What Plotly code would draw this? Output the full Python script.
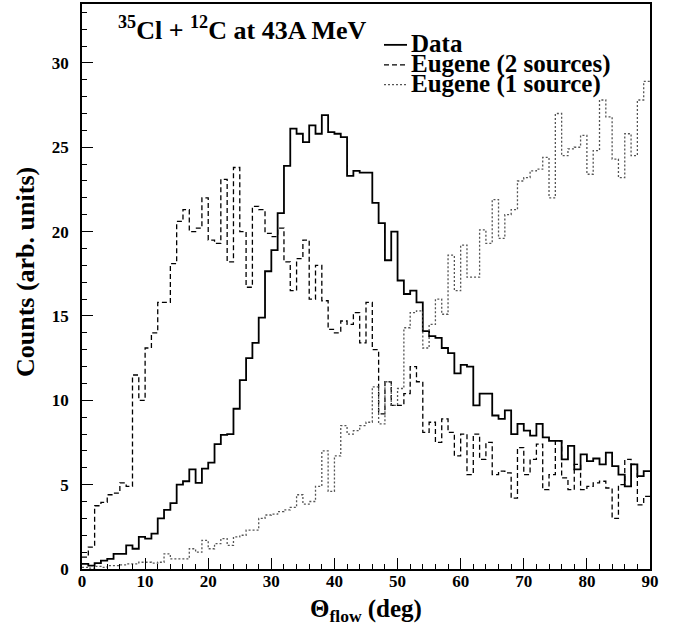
import plotly.graph_objects as go

# ---- data (1-degree bins, lower edges 0..89) ----
theta_edges = list(range(0, 91))

data_counts = [0.3, 0.2, 0.35, 0.5, 0.6, 0.9, 0.9, 1.4, 1.2, 1.9,
               1.8, 2.1, 3.0, 3.5, 3.9, 5.0, 5.2, 5.9, 5.1, 5.95,
               6.3, 7.4, 7.95, 8.0, 9.5, 11.2, 12.5, 13.4, 14.9, 17.65,
               18.9, 21.1, 23.9, 26.1, 25.8, 25.3, 26.3, 25.8, 26.9, 25.9,
               25.8, 25.6, 23.3, 23.6, 23.5, 23.5, 21.7, 20.5, 18.3, 20.0,
               17.1, 16.3, 16.5, 15.8, 14.1, 13.8, 13.7, 13.1, 12.8, 11.6,
               12.1, 12.0, 9.7, 10.4, 10.4, 9.1, 8.9, 9.4, 8.0, 8.6,
               8.2, 7.9, 8.6, 7.8, 7.6, 7.6, 6.5, 7.3, 5.9, 6.8,
               6.4, 6.55, 6.2, 6.9, 6.1, 5.6, 4.9, 6.2, 5.5, 5.8]

eugene2_counts = [0.7, 1.3, 3.75, 3.95, 4.4, 4.5, 5.1, 4.9, 11.5, 10.0,
                  13.1, 14.0, 15.8, 15.8, 18.1, 20.6, 21.3, 20.0, 20.2, 22.0,
                  19.5, 19.3, 23.1, 18.2, 23.8, 20.0, 16.7, 21.5, 21.3, 19.9,
                  19.7, 20.2, 18.2, 16.5, 18.4, 19.5, 16.0, 18.0, 15.9, 14.2,
                  14.0, 14.7, 14.5, 15.2, 13.4, 15.8, 13.0, 9.2, 11.1, 9.7,
                  9.7, 10.4, 12.0, 11.1, 8.1, 8.7, 7.5, 8.9, 8.1, 6.7,
                  8.0, 5.6, 8.0, 6.5, 7.5, 5.6, 5.8, 5.7, 4.2, 7.2,
                  5.6, 6.5, 7.4, 4.7, 5.6, 7.6, 5.4, 4.7, 6.2, 4.7,
                  4.9, 5.1, 5.2, 4.8, 3.0, 5.0, 6.5, 6.2, 3.8, 4.3]

eugene1_counts = [0.1, 0.05, 0.15, 0.1, 0.2, 0.2, 0.25, 0.3, 0.3, 0.4,
                  0.4, 0.35, 0.4, 0.9, 0.6, 0.6, 0.6, 1.2, 1.0, 1.7,
                  1.2, 1.5, 1.8, 1.4, 1.9, 2.0, 2.3, 2.3, 3.0, 3.2,
                  3.25, 3.4, 3.5, 3.65, 4.4, 3.85, 4.0, 4.9, 7.0, 4.6,
                  6.7, 8.5, 8.0, 8.2, 8.5, 8.7, 10.8, 8.6, 11.1, 9.7,
                  10.7, 14.3, 15.2, 15.3, 13.1, 14.5, 16.0, 15.1, 18.6, 16.5,
                  19.2, 17.3, 17.3, 20.1, 19.3, 21.9, 19.6, 21.0, 21.3, 23.0,
                  23.2, 23.6, 23.7, 24.4, 22.0, 27.0, 24.5, 24.9, 25.0, 25.7,
                  23.4, 24.8, 27.8, 26.8, 24.3, 23.2, 25.8, 24.5, 27.8, 28.9]

series_names = ["Data", "Eugene (2 sources)", "Eugene (1 source)"]
x_ticks = [0, 10, 20, 30, 40, 50, 60, 70, 80, 90]
y_ticks = [0, 5, 10, 15, 20, 25, 30]

FONT = "Liberation Serif"
W, H = 678, 629
ML, MR, MT, MB = 82, 28, 2, 60
PW, PH = W - ML - MR, H - MT - MB


def px_x(p):
    return (p - ML) / PW


def px_y(p):
    return (H - MB - p) / PH


styles = [
    dict(color="black", width=1.8, dash="solid"),
    dict(color="black", width=1.3, dash="5px,3px"),
    dict(color="#555555", width=1.3, dash="2px,2px"),
]

fig = go.Figure()
for name, counts, st in zip(series_names,
                            [data_counts, eugene2_counts, eugene1_counts],
                            styles):
    fig.add_trace(go.Scatter(
        x=theta_edges,
        y=counts + [counts[-1]],
        mode="lines",
        line=dict(shape="hv", **st),
        name=name,
        showlegend=False,
    ))

axis_common = dict(
    showline=True, linecolor="black", linewidth=1.5, mirror=True,
    showgrid=False, zeroline=False,
    ticks="inside", ticklen=11, tickwidth=1.2, tickcolor="black",
    tickfont=dict(family=FONT, size=17, color="black", weight="bold"),
)

fig.update_xaxes(range=[0, 90], tickvals=x_ticks,
                 ticklabelstandoff=-4,
                 minor=dict(ticks="inside", dtick=2, ticklen=5,
                            tickwidth=1, tickcolor="black"),
                 **axis_common)
fig.update_yaxes(range=[0, (H - MB - MT) / 16.93], tickvals=y_ticks,
                 ticklabelstandoff=8,
                 minor=dict(ticks="inside", dtick=1, ticklen=5,
                            tickwidth=1, tickcolor="black"),
                 **axis_common)

annotations = [
    dict(text="<b><sup>35</sup>Cl + <sup>12</sup>C at 43A MeV</b>",
         x=px_x(116), y=px_y(27), xref="paper", yref="paper",
         xanchor="left", yanchor="middle", showarrow=False,
         font=dict(family=FONT, size=26, color="black")),
    dict(text="<b>Counts (arb. units)</b>",
         x=px_x(25), y=px_y(271), xref="paper", yref="paper",
         xanchor="center", yanchor="middle", textangle=-90, showarrow=False,
         font=dict(family=FONT, size=26, color="black")),
    dict(text="<b>Θ<sub>flow</sub> (deg)</b>",
         x=0.5, y=px_y(611), xref="paper", yref="paper",
         xanchor="center", yanchor="middle", showarrow=False,
         font=dict(family=FONT, size=25, color="black")),
]

shapes = []
leg_y = [43, 63, 83]
for name, st, yy in zip(series_names, styles, leg_y):
    shapes.append(dict(type="line", xref="paper", yref="paper",
                       x0=px_x(384), x1=px_x(407), y0=px_y(yy), y1=px_y(yy),
                       line=dict(color=st["color"], width=st["width"],
                                 dash=st["dash"])))
    annotations.append(dict(text="<b>%s</b>" % name,
                            x=px_x(409), y=px_y(yy - 1), xref="paper",
                            yref="paper", xanchor="left", yanchor="middle",
                            showarrow=False,
                            font=dict(family=FONT, size=25, color="black")))

fig.update_layout(
    width=W, height=H,
    margin=dict(l=ML, r=MR, t=MT, b=MB, pad=0),
    paper_bgcolor="white", plot_bgcolor="white",
    annotations=annotations, shapes=shapes,
    showlegend=False,
)

fig.write_html("out.html")
